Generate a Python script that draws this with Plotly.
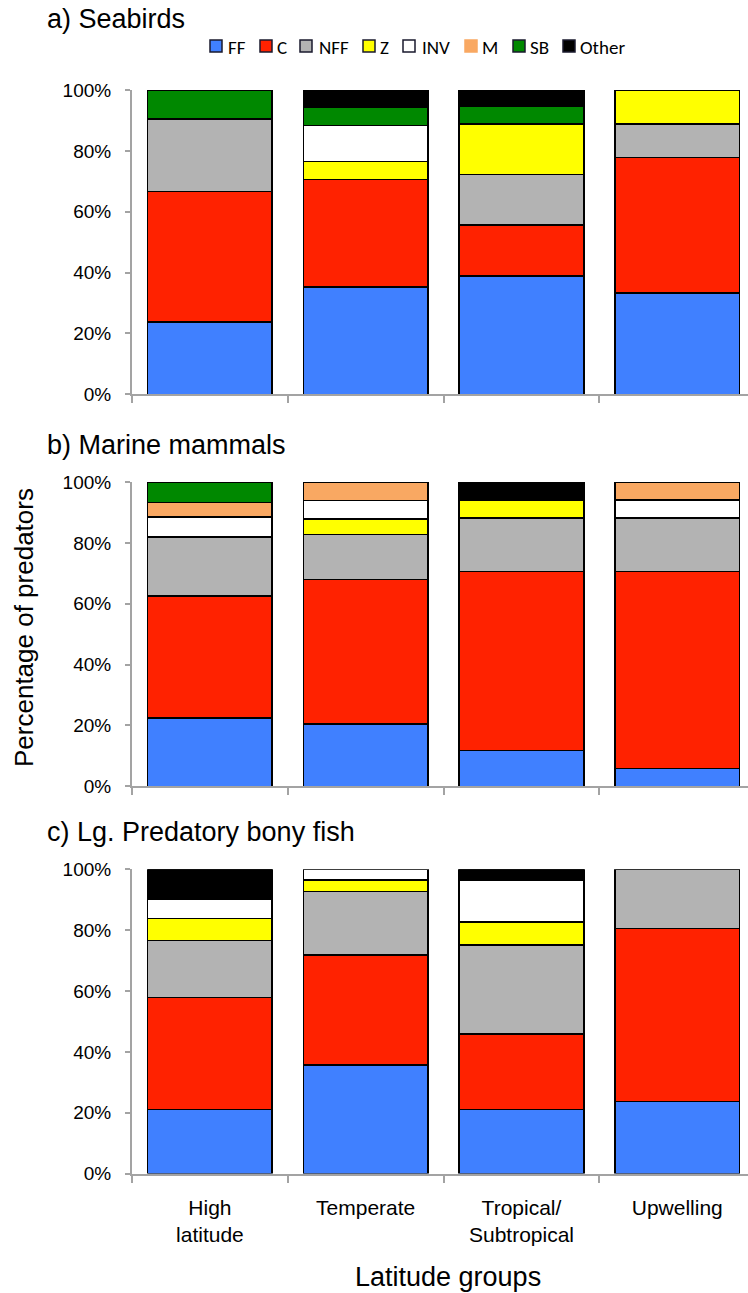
import plotly.graph_objects as go

# ---------------- data ----------------
categories = ["High<br>latitude", "Temperate", "Tropical/<br>Subtropical", "Upwelling"]
groups = ["FF", "C", "NFF", "Z", "INV", "M", "SB", "Other"]
panel_titles = ["a) Seabirds", "b) Marine mammals", "c) Lg. Predatory bony fish"]
y_ticks = [0, 20, 40, 60, 80, 100]
y_tick_labels = ["0%", "20%", "40%", "60%", "80%", "100%"]

# a) Seabirds (% of predators, per latitude group)
seabirds_FF = [23.8, 35.3, 38.9, 33.3]
seabirds_C = [42.9, 35.3, 16.7, 44.5]
seabirds_NFF = [23.8, 0, 16.7, 11.1]
seabirds_Z = [0, 5.9, 16.6, 11.1]
seabirds_INV = [0, 11.8, 0, 0]
seabirds_M = [0, 0, 0, 0]
seabirds_SB = [9.5, 5.9, 5.6, 0]
seabirds_Other = [0, 5.8, 5.5, 0]

# b) Marine mammals
mammals_FF = [22.4, 20.5, 11.8, 5.9]
mammals_C = [40.1, 47.5, 58.8, 64.7]
mammals_NFF = [19.4, 14.7, 17.6, 17.6]
mammals_Z = [0, 5.2, 5.9, 0]
mammals_INV = [6.6, 6.1, 0, 5.9]
mammals_M = [4.8, 6.0, 0, 5.9]
mammals_SB = [6.7, 0, 0, 0]
mammals_Other = [0, 0, 5.9, 0]

# c) Large predatory bony fish
fish_FF = [21.1, 35.7, 21.1, 23.7]
fish_C = [36.8, 36.1, 24.8, 56.9]
fish_NFF = [18.7, 20.9, 29.3, 19.4]
fish_Z = [7.2, 3.8, 7.4, 0]
fish_INV = [6.4, 3.5, 13.9, 0]
fish_M = [0, 0, 0, 0]
fish_SB = [0, 0, 0, 0]
fish_Other = [9.8, 0, 3.5, 0]

panels = [
    [seabirds_FF, seabirds_C, seabirds_NFF, seabirds_Z, seabirds_INV, seabirds_M, seabirds_SB, seabirds_Other],
    [mammals_FF, mammals_C, mammals_NFF, mammals_Z, mammals_INV, mammals_M, mammals_SB, mammals_Other],
    [fish_FF, fish_C, fish_NFF, fish_Z, fish_INV, fish_M, fish_SB, fish_Other],
]

# ---------------- styles ----------------
colors = {
    "FF": "#4080FF", "C": "#FF2200", "NFF": "#B3B3B3", "Z": "#FFFF00",
    "INV": "#FFFFFF", "M": "#F9A862", "SB": "#008800", "Other": "#000000",
}
W, H = 748, 1293
AXIS_GRAY = "#A3A3A3"
FONT = "Liberation Sans, Arial, sans-serif"
LEG_FONT = "Carlito, Lato, sans-serif"

# panel plot areas in pixels (top, bottom)
panel_px = [(90.0, 394.3), (482.0, 786.3), (869.3, 1173.6)]
title_px = [19, 445, 832]
x_left_px = 132

fig = go.Figure()

for p, series in enumerate(panels):
    ax = "" if p == 0 else str(p + 1)
    for g, vals in zip(groups, series):
        fig.add_trace(go.Bar(
            x=categories,
            y=[v if v else None for v in vals],
            name=g,
            xaxis="x" + ax,
            yaxis="y" + ax,
            width=0.8,
            marker=dict(color=colors[g], line=dict(color="black", width=1.5)),
            showlegend=False,
            hovertemplate=g + ": %{y}%<extra></extra>",
        ))
    top, bot = panel_px[p]
    fig.layout["xaxis" + ax] = dict(
        domain=[x_left_px / W, 1],
        anchor="y" + ax,
        type="category",
        range=[-0.5, 3.454],
        tickson="boundaries",
        ticks="outside",
        ticklen=7,
        tickwidth=2,
        tickcolor=AXIS_GRAY,
        showline=True,
        linecolor=AXIS_GRAY,
        linewidth=2,
        showgrid=False,
        zeroline=False,
        automargin=False,
        showticklabels=(p == 2),
        tickfont=dict(family=FONT, size=21, color="black"),
        ticklabelstandoff=14,
        fixedrange=True,
    )
    fig.layout["yaxis" + ax] = dict(
        domain=[1 - bot / H, 1 - top / H],
        anchor="x" + ax,
        range=[0, 100],
        tickmode="array",
        tickvals=y_ticks,
        ticktext=y_tick_labels,
        ticks="outside",
        ticklen=5,
        tickwidth=2,
        tickcolor=AXIS_GRAY,
        showline=True,
        linecolor=AXIS_GRAY,
        linewidth=2,
        showgrid=False,
        zeroline=False,
        automargin=False,
        tickfont=dict(family=FONT, size=19, color="black"),
        ticklabelstandoff=10,
        fixedrange=True,
    )
    fig.add_annotation(
        text=panel_titles[p], xref="paper", yref="paper",
        x=45 / W, y=1 - title_px[p] / H, xanchor="left", yanchor="middle",
        showarrow=False, font=dict(family=FONT, size=27, color="black"),
    )

# ---------------- manual legend ----------------
leg_square_px = [210, 260, 300, 363, 403, 465, 513, 563]
leg_text_px = [226, 275, 317, 378, 420, 480, 528, 578]
leg_y = 46
for g, sx, tx in zip(groups, leg_square_px, leg_text_px):
    fig.add_shape(
        type="rect", xref="paper", yref="paper",
        x0=sx / W, x1=(sx + 12) / W,
        y0=1 - (leg_y + 6) / H, y1=1 - (leg_y - 6) / H,
        fillcolor=colors[g],
        line=dict(color="#1a1a2e" if g != "M" else colors[g], width=1.5),
    )
    fig.add_annotation(
        text=g, xref="paper", yref="paper",
        x=tx / W, y=1 - (leg_y + 1) / H, xanchor="left", yanchor="middle",
        showarrow=False, font=dict(family=LEG_FONT, size=19, color="black"),
    )

# axis titles
fig.add_annotation(
    text="Percentage of predators", xref="paper", yref="paper",
    x=24 / W, y=1 - 628 / H, xanchor="center", yanchor="middle", textangle=-90,
    showarrow=False, font=dict(family=FONT, size=26, color="black"),
)
fig.add_annotation(
    text="Latitude groups", xref="paper", yref="paper",
    x=448 / W, y=1 - 1277 / H, xanchor="center", yanchor="middle",
    showarrow=False, font=dict(family=FONT, size=27, color="black"),
)

fig.update_layout(
    width=W, height=H,
    margin=dict(l=0, r=0, t=0, b=0, pad=0, autoexpand=False),
    barmode="stack",
    bargap=0.2,
    plot_bgcolor="white",
    paper_bgcolor="white",
    showlegend=False,
)

fig.write_html(
    "out.html",
    config={"displayModeBar": False},
    post_script="document.body.style.margin='0';document.body.style.overflow='hidden';",
)
